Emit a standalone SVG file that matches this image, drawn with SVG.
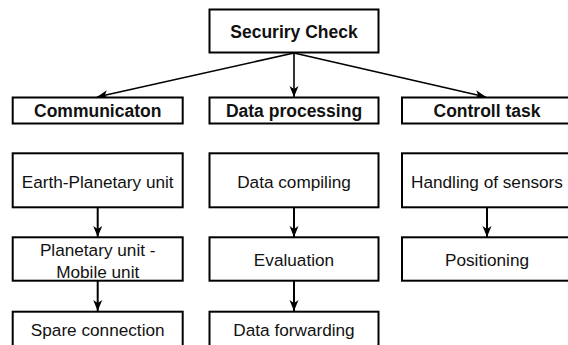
<svg xmlns="http://www.w3.org/2000/svg" width="568" height="345" viewBox="0 0 568 345">
<style>
.box{fill:#fff;stroke:#000;stroke-width:2}
.t{font-family:"Liberation Sans",Arial,sans-serif;font-size:17.2px;fill:#111;text-anchor:middle}
.b{font-weight:bold;font-size:17.5px}
.c{stroke:#000;fill:none}
</style>
<defs>
<marker id="ah" markerWidth="12" markerHeight="10" refX="11" refY="5" orient="auto" markerUnits="userSpaceOnUse">
<path d="M0,0.5 L11,5 L0,9.5 L3,5 z" fill="#000"/>
</marker>
</defs>
<g id="connectors">
<line class="c" x1="294" y1="53" x2="97" y2="97" stroke-width="1.6" marker-end="url(#ah)"/>
<line class="c" x1="294" y1="53" x2="294" y2="97" stroke-width="1.6" marker-end="url(#ah)"/>
<line class="c" x1="294" y1="53" x2="486" y2="97" stroke-width="1.6" marker-end="url(#ah)"/>
<line class="c" x1="97.7" y1="207" x2="97.7" y2="237" stroke-width="2" marker-end="url(#ah)"/>
<line class="c" x1="97.7" y1="281" x2="97.7" y2="311" stroke-width="2" marker-end="url(#ah)"/>
<line class="c" x1="294" y1="207" x2="294" y2="237" stroke-width="2" marker-end="url(#ah)"/>
<line class="c" x1="294" y1="281" x2="294" y2="311" stroke-width="2" marker-end="url(#ah)"/>
<line class="c" x1="487" y1="207" x2="487" y2="237" stroke-width="2" marker-end="url(#ah)"/>
</g>
<g id="security-check"><rect class="box" x="209.5" y="9.5" width="169" height="43"/><text class="t b" x="294" y="37.5">Securiry Check</text></g>
<g id="communicaton"><rect class="box" x="12.7" y="97.5" width="170" height="26"/><text class="t b" x="97.7" y="117">Communicaton</text></g>
<g id="data-processing"><rect class="box" x="209.5" y="97.5" width="169" height="26"/><text class="t b" x="294" y="117">Data processing</text></g>
<g id="controll-task"><rect class="box" x="402" y="97.5" width="170" height="26"/><text class="t b" x="487" y="117">Controll task</text></g>
<g id="earth-planetary"><rect class="box" x="12.7" y="153.3" width="170" height="54"/><text class="t" x="97.7" y="187.8">Earth-Planetary unit</text></g>
<g id="planetary-mobile"><rect class="box" x="12.7" y="237.3" width="170" height="43.4"/><text class="t" x="97.7" y="256">Planetary unit -</text><text class="t" x="97.7" y="277.7">Mobile unit</text></g>
<g id="spare-connection"><rect class="box" x="12.7" y="311.7" width="170" height="40"/><text class="t" x="97.7" y="336">Spare connection</text></g>
<g id="data-compiling"><rect class="box" x="209.5" y="153.3" width="169" height="54"/><text class="t" x="294" y="187.8">Data compiling</text></g>
<g id="evaluation"><rect class="box" x="209.5" y="237.3" width="169" height="43.4"/><text class="t" x="294" y="266">Evaluation</text></g>
<g id="data-forwarding"><rect class="box" x="209.5" y="311.7" width="169" height="40"/><text class="t" x="294" y="336">Data forwarding</text></g>
<g id="handling-sensors"><rect class="box" x="402" y="153.3" width="170" height="54"/><text class="t" x="487" y="187.8">Handling of sensors</text></g>
<g id="positioning"><rect class="box" x="402" y="237.3" width="170" height="43.4"/><text class="t" x="487" y="266">Positioning</text></g>
</svg>
